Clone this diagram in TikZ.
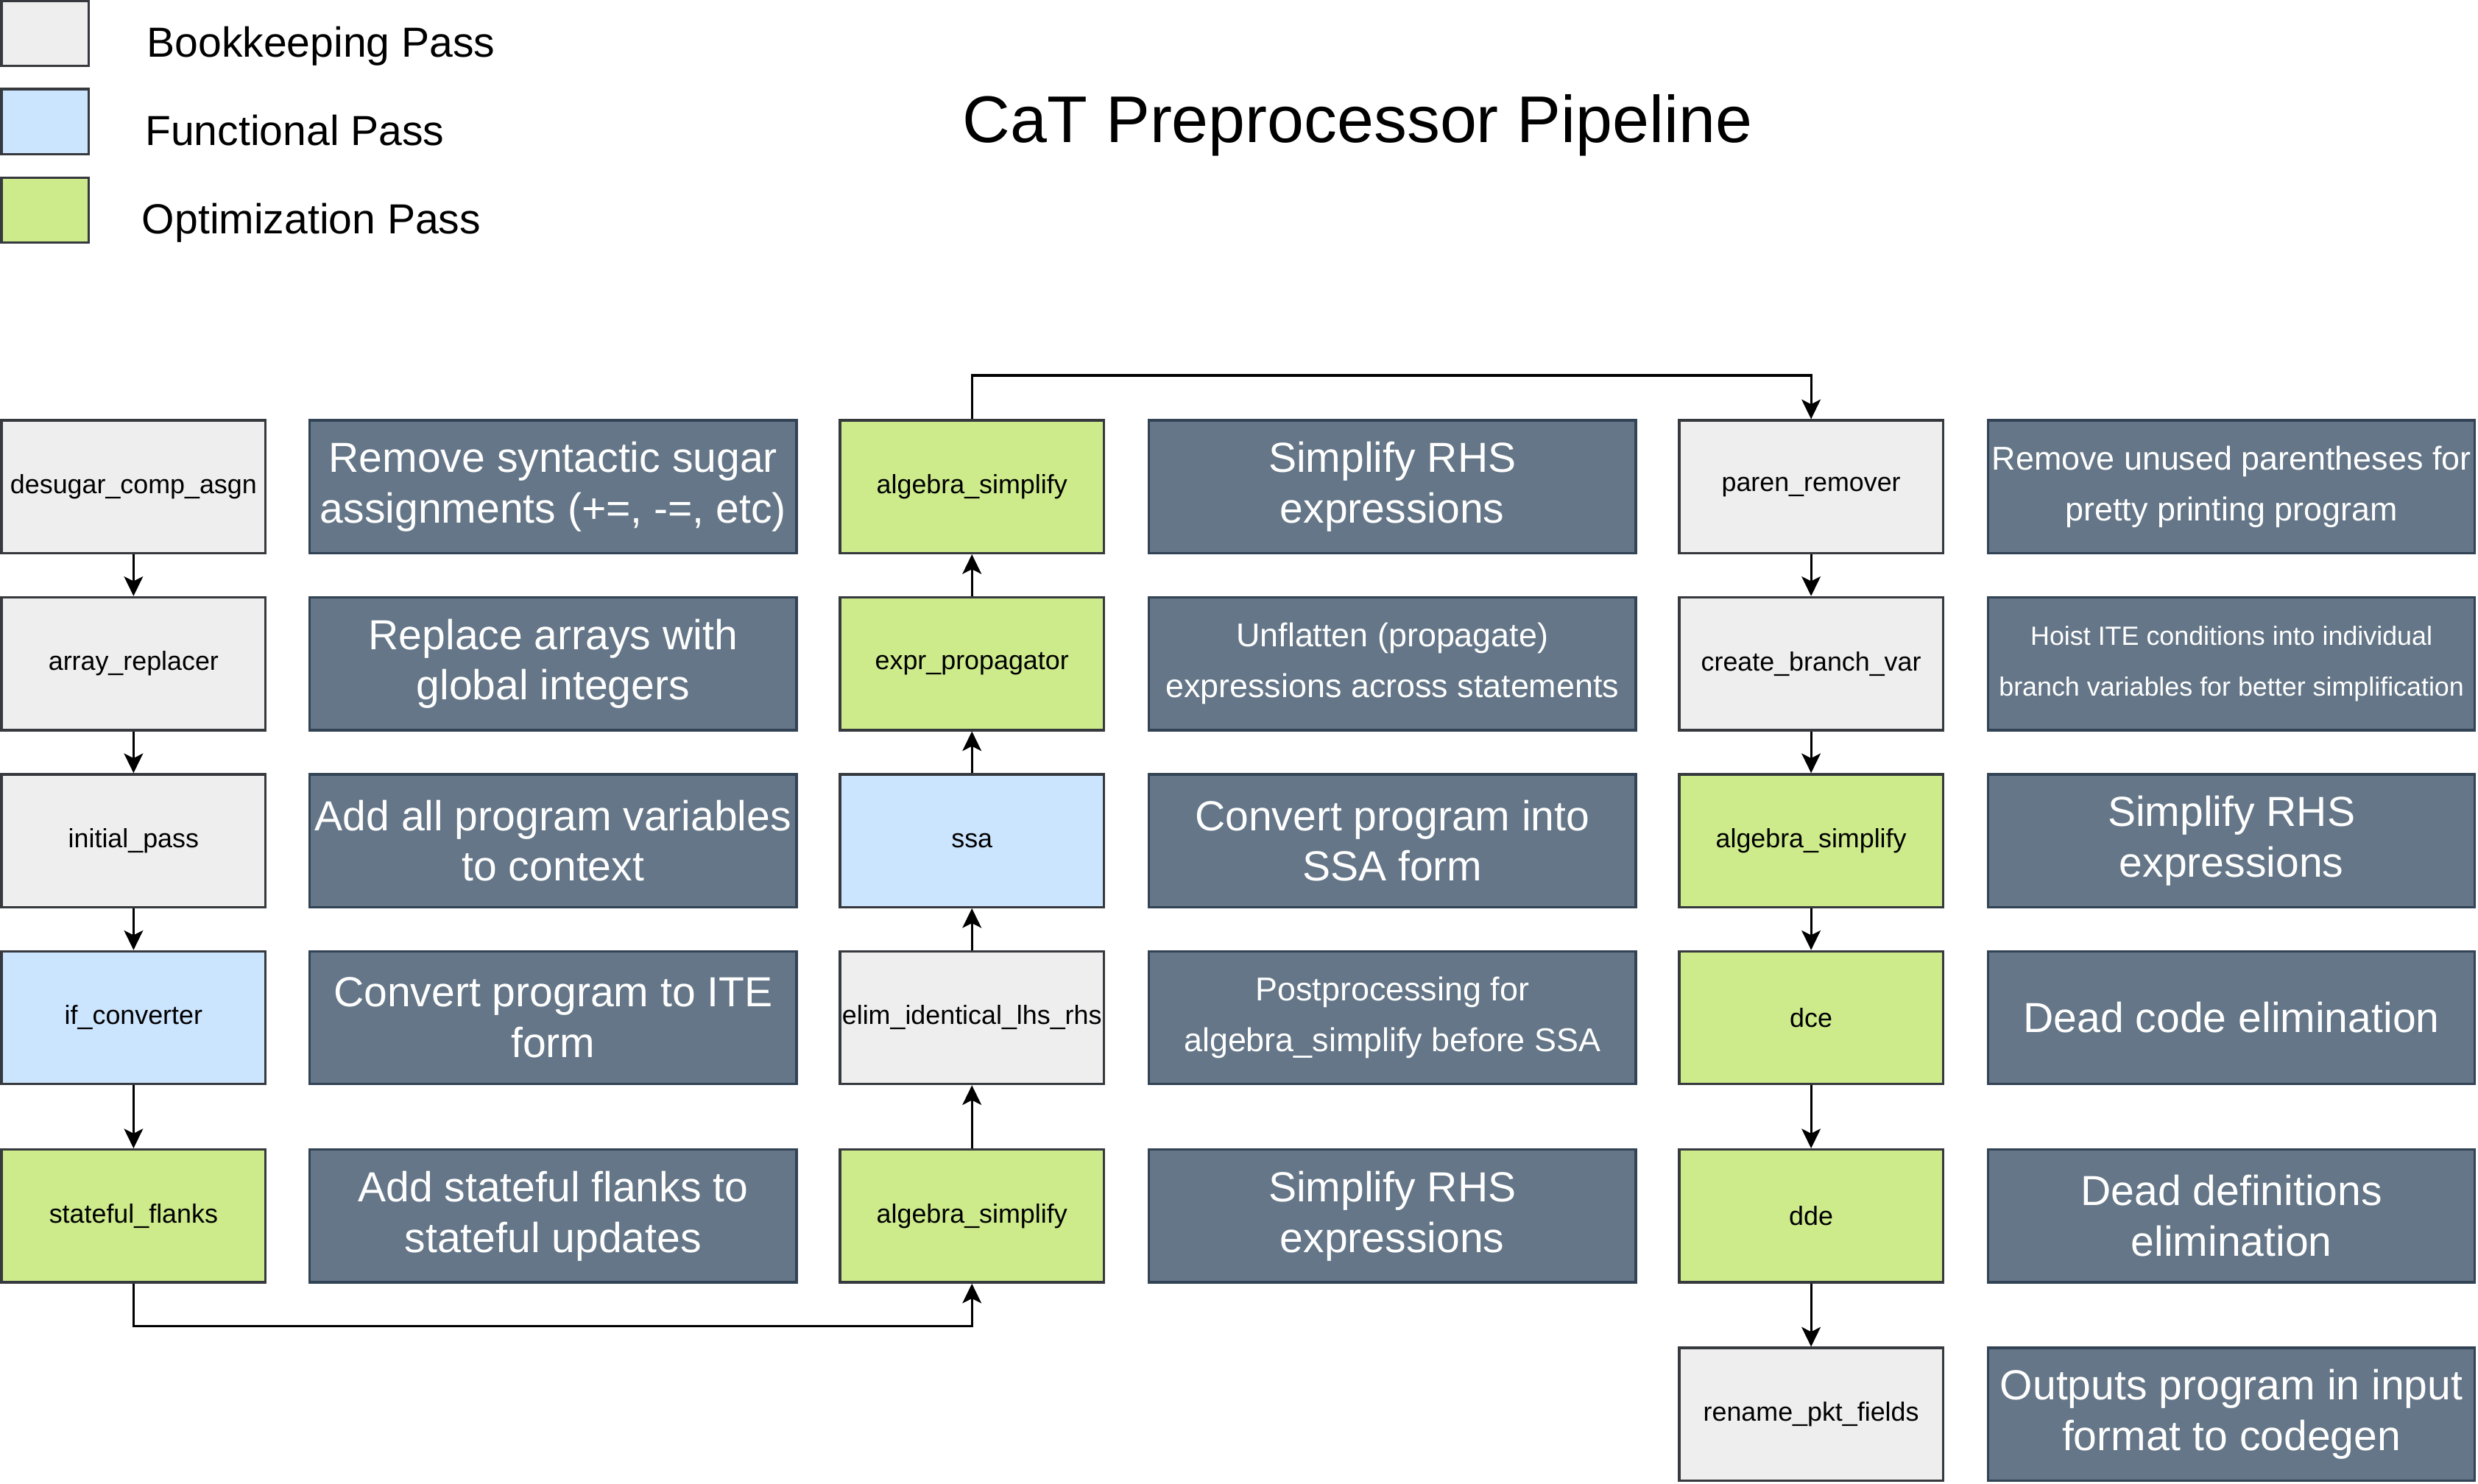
\documentclass[tikz,border=0pt]{standalone}
\usepackage{fontspec}
\setmainfont{Liberation Sans}
\usetikzlibrary{arrows.meta}
\definecolor{bkfill}{HTML}{EEEEEE}
\definecolor{fnfill}{HTML}{CCE5FF}
\definecolor{opfill}{HTML}{CDEB8B}
\definecolor{boxline}{HTML}{36393D}
\definecolor{descfill}{HTML}{647687}
\definecolor{descline}{HTML}{314354}
\tikzset{
  passbox/.style={draw=boxline, line width=0.8pt, minimum width=83.5pt, minimum height=42pt, inner sep=0pt, font=\fontsize{8.35}{10}\selectfont},
  bk/.style={passbox, fill=bkfill},
  fn/.style={passbox, fill=fnfill},
  op/.style={passbox, fill=opfill},
  descbox/.style={draw=descline, fill=descfill, line width=0.8pt, minimum width=154pt, minimum height=42pt, inner sep=0pt, align=center, text=white},
  dbig/.style={descbox, font=\fontsize{13.3}{16}\selectfont},
  dmid/.style={descbox, font=\fontsize{10.45}{16}\selectfont},
  dsmall/.style={descbox, font=\fontsize{8.35}{16}\selectfont},
  legbox/.style={draw=boxline, line width=0.8pt, minimum width=27.6pt, minimum height=20.6pt, inner sep=0pt},
  legtext/.style={anchor=base west, inner sep=0pt, font=\fontsize{13.3}{16}\selectfont},
  arr/.style={draw=black, line width=0.75pt, -{Stealth[length=6.2pt, width=6pt, inset=1.5pt]}}
}
\begin{document}
\begin{tikzpicture}[x=0.5pt, y=-0.5pt]
\useasboundingbox (0,0) rectangle (1568,939.1);
% legend
\node[legbox, fill=bkfill] (lgbk) at (28.6,21) {};
\node[legbox, fill=fnfill] (lgfn) at (28.6,77) {};
\node[legbox, fill=opfill] (lgop) at (28.6,133) {};
\node[legtext] (lgbkt) at (92.5,36) {Bookkeeping Pass};
\node[legtext] (lgfnt) at (91.5,92) {Functional Pass};
\node[legtext] (lgopt) at (89.5,148) {Optimization Pass};
% title
\node[anchor=base, inner sep=0pt, font=\fontsize{20.9}{24}\selectfont] (title) at (859,90) {CaT Preprocessor Pipeline};
% column 1
\node[bk] (desugar) at (84.5,308) {desugar\_comp\_asgn};
\node[bk] (arrayrep) at (84.5,420) {array\_replacer};
\node[bk] (initpass) at (84.5,532) {initial\_pass};
\node[fn] (ifconv) at (84.5,644) {if\_converter};
\node[op] (stateful) at (84.5,769.5) {stateful\_flanks};
\node[dbig] (d11) at (350,308) {Remove syntactic sugar\\assignments (+=, -=, etc)};
\node[dbig] (d12) at (350,420) {Replace arrays with\\global integers};
\node[dbig] (d13) at (350,532) {Add all program variables\\to context};
\node[dbig] (d14) at (350,644) {Convert program to ITE\\form};
\node[dbig] (d15) at (350,769.5) {Add stateful flanks to\\stateful updates};
% column 2
\node[op] (alg2) at (615,308) {algebra\_simplify};
\node[op] (exprprop) at (615,420) {expr\_propagator};
\node[fn] (ssa) at (615,532) {ssa};
\node[bk] (elim) at (615,644) {elim\_identical\_lhs\_rhs};
\node[op] (alg1) at (615,769.5) {algebra\_simplify};
\node[dbig] (d21) at (881,308) {Simplify RHS\\expressions};
\node[dmid] (d22) at (881,420) {Unflatten (propagate)\\expressions across statements};
\node[dbig] (d23) at (881,532) {Convert program into\\SSA form};
\node[dmid] (d24) at (881,644) {Postprocessing for\\algebra\_simplify before SSA};
\node[dbig] (d25) at (881,769.5) {Simplify RHS\\expressions};
% column 3
\node[bk] (paren) at (1146,308) {paren\_remover};
\node[bk] (branchvar) at (1146,420) {create\_branch\_var};
\node[op] (alg3) at (1146,532) {algebra\_simplify};
\node[op] (dce) at (1146,644) {dce};
\node[op] (dde) at (1146,769.5) {dde};
\node[bk] (rename) at (1146,895) {rename\_pkt\_fields};
\node[dmid] (d31) at (1412,308) {Remove unused parentheses for\\pretty printing program};
\node[dsmall] (d32) at (1412,420) {Hoist ITE conditions into individual\\branch variables for better simplification};
\node[dbig] (d33) at (1412,532) {Simplify RHS\\expressions};
\node[dbig] (d34) at (1412,644) {Dead code elimination};
\node[dbig] (d35) at (1412,769.5) {Dead definitions\\elimination};
\node[dbig] (d36) at (1412,895) {Outputs program in input\\format to codegen};
% connectors
\draw[arr] (desugar) -- (arrayrep);
\draw[arr] (arrayrep) -- (initpass);
\draw[arr] (initpass) -- (ifconv);
\draw[arr] (ifconv) -- (stateful);
\draw[arr] (stateful.south) -- ++(0,27) -| (alg1.south);
\draw[arr] (alg1) -- (elim);
\draw[arr] (elim) -- (ssa);
\draw[arr] (ssa) -- (exprprop);
\draw[arr] (exprprop) -- (alg2);
\draw[arr] (alg2.north) -- ++(0,-27.6) -| (paren.north);
\draw[arr] (paren) -- (branchvar);
\draw[arr] (branchvar) -- (alg3);
\draw[arr] (alg3) -- (dce);
\draw[arr] (dce) -- (dde);
\draw[arr] (dde) -- (rename);
\end{tikzpicture}
\end{document}
